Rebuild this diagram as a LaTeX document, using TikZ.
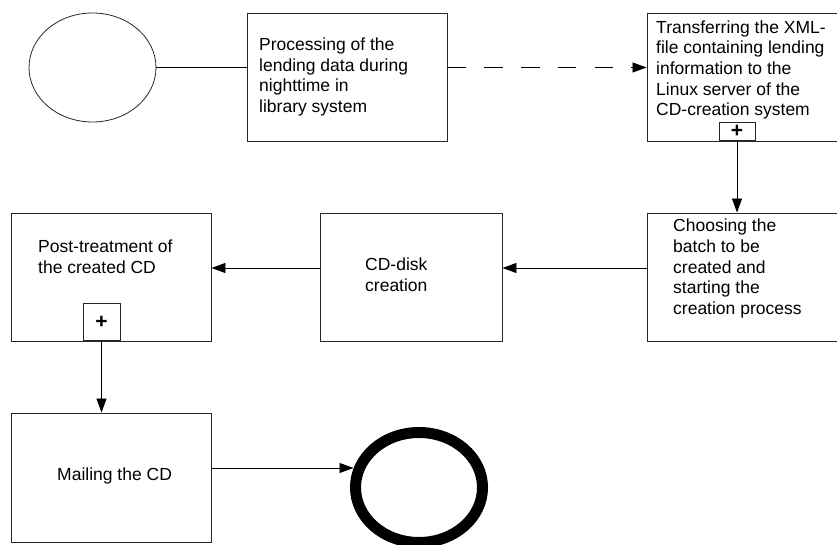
\documentclass[tikz,border=0pt]{standalone}
\usepackage{fontspec}
\setmainfont{Liberation Sans}
\usetikzlibrary{arrows.meta,shapes.geometric}

\tikzset{
  procbox/.style={draw=black!85, line width=0.9pt, rectangle, inner sep=0pt,
                  minimum width=200pt, minimum height=128pt},
  subbox/.style={draw=black!85, line width=0.9pt, rectangle, inner sep=0pt,
                 font=\fontsize{21}{21}\selectfont\bfseries},
  boxtext/.style={inner sep=0pt, align=left, anchor=west,
                  font=\fontsize{17.5}{20.7}\selectfont},
  flow/.style={line width=0.8pt, -{Triangle[length=14pt,width=10pt]}},
  link/.style={line width=0.8pt},
}

\begin{document}
\begin{tikzpicture}[x=1pt, y=-1pt]
  \useasboundingbox (0,0) rectangle (837,545);
  \clip (0,0) rectangle (837,545);

  % start event and end event
  \node[draw=black!85, line width=0.8pt, ellipse, inner sep=0pt,
        minimum width=127pt, minimum height=109pt] (start) at (92.5,67.5) {};
  \node[draw=black, line width=11pt, ellipse, inner sep=0pt,
        minimum width=127pt, minimum height=110pt] (stop) at (419,487.5) {};

  % activity boxes
  \node[procbox] (proc) at (347,77) {};
  \node[procbox] (xfer) at (747,77) {};
  \node[procbox] (batch) at (747,277) {};
  \node[procbox, minimum width=182pt] (disk) at (411,277) {};
  \node[procbox] (post) at (111,277) {};
  \node[procbox, minimum height=129pt] (mail) at (111,477.5) {};

  % collapsed sub-process markers
  \node[subbox, minimum width=36pt, minimum height=18pt, anchor=south]
       (xferplus) at (737,141) {\raisebox{1pt}{+}};
  \node[subbox, minimum width=37pt, minimum height=37pt, anchor=south]
       (postplus) at (101.5,341) {+};

  % labels
  \node[boxtext] (tproc) at (259,77)
       {Processing of the\\lending data during\\nighttime in\\library system};
  \node[boxtext] (txfer) at (656,70)
       {Transferring the XML-\\file containing lending\\information to the\\Linux server of the\\CD-creation system};
  \node[boxtext] (tbatch) at (673,268.5)
       {Choosing the\\batch to be\\created and\\starting the\\creation process};
  \node[boxtext] (tdisk) at (365,275) {CD-disk\\creation};
  \node[boxtext] (tpost) at (38,257) {Post-treatment of\\the created CD};
  \node[boxtext] (tmail) at (57,476) {Mailing the CD};

  % connectors
  \draw[link] (start.east) -- (start.east -| proc.west);
  \draw[flow, dash pattern=on 18.5pt off 18.3pt] (proc.east |- start.east) -- (xfer.west |- start.east);
  \draw[flow] (xferplus.south) -- (xferplus.south |- batch.north);
  \draw[flow] (batch.west |- 0,268) -- (disk.east |- 0,268);
  \draw[flow] (disk.west |- 0,268) -- (post.east |- 0,268);
  \draw[flow] (postplus.south) -- (postplus.south |- mail.north);
  \coordinate (stopin) at (353.5,468);
  \draw[flow] (mail.east |- stopin) -- (stopin);
\end{tikzpicture}
\end{document}
